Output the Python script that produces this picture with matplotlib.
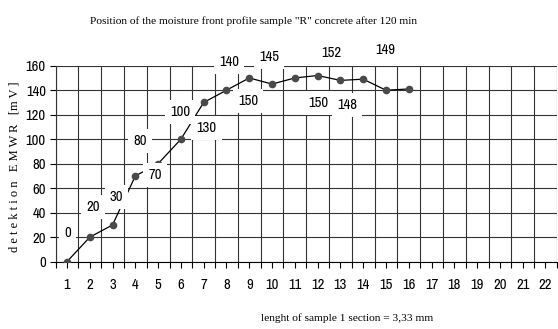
import matplotlib
matplotlib.use('Agg')
import matplotlib.pyplot as plt
from matplotlib.ticker import MultipleLocator

plt.rcParams['font.family'] = ['Archivo Narrow', 'Liberation Sans', 'DejaVu Sans']

# sections of the sample and the measured EMWR values
sections = list(range(1, 23))
sec_measured = list(range(1, 17))
emwr = [0, 20, 30, 70, 80, 100, 130, 140, 150, 145, 150, 152, 148, 149, 140, 141]

# data labels as placed by hand in the original chart (text, x, y in data units)
lab_text = ['0', '20', '30', '80', '70', '100', '130', '140', '150', '145',
            '150', '152', '148', '149']
lab_x = [1.04, 2.14, 3.18, 4.2, 4.86, 5.96, 7.13, 8.12, 8.95, 9.87,
         12.02, 12.62, 13.28, 14.99]
lab_y = [23.7, 44.9, 53.1, 98.8, 70.8, 122.4, 109.4, 162.8, 131.4, 166.9,
         129.3, 170.4, 127.9, 172.8]

title = 'Position of the moisture front profile sample "R" concrete after 120 min'
xlab = 'lenght of sample 1 section = 3,33 mm'
ylab = 'd e t e k t i o n   E M W R   [m V ]'

fig = plt.figure(figsize=(5.58, 3.29), dpi=100)
ax = fig.add_axes([0.0996, 0.2046, 0.8984, 0.5957])

ax.plot(sec_measured, emwr, color='black', lw=0.9, zorder=3,
        marker='o', ms=4.5, mfc='#4a4a4a', mec='#4a4a4a')

for t, x, y in zip(lab_text, lab_x, lab_y):
    ax.text(x, y, t, ha='center', va='center', fontsize=10.5, zorder=5,
            clip_on=False,
            bbox=dict(boxstyle='square,pad=0.35', fc='white', ec='none'))

ax.set_xlim(0.5, 22.5)
ax.set_ylim(0, 160)
ax.set_xticks(sections)
ax.xaxis.set_minor_locator(MultipleLocator(1, offset=0.5))
ax.yaxis.set_major_locator(MultipleLocator(20))
ax.grid(which='minor', axis='x', color='#333333', lw=0.8, zorder=1)
ax.grid(which='major', axis='y', color='#333333', lw=0.8, zorder=1)
ax.set_axisbelow(True)
ax.tick_params(axis='x', which='both', direction='out', length=4, width=0.8,
               labelsize=10.5, pad=8)
ax.tick_params(axis='y', direction='out', length=4, width=0.8, labelsize=10.5, pad=3)
for side in ['top', 'right']:
    ax.spines[side].set_visible(False)
for side in ['left', 'bottom']:
    ax.spines[side].set_linewidth(0.8)
ax.spines['left'].set_color('#333333')

fig.text(253 / 558, 1 - 21 / 329, title, ha='center', va='center',
         fontsize=8.2, family='Liberation Serif')
fig.text(347 / 558, 1 - 318 / 329, xlab, ha='center', va='center',
         fontsize=8.2, family='Liberation Serif')
fig.text(15 / 558, 1 - 167 / 329, ylab, ha='center', va='center',
         rotation=90, fontsize=9, family='Liberation Serif')

fig.savefig('out.png', dpi=100)
